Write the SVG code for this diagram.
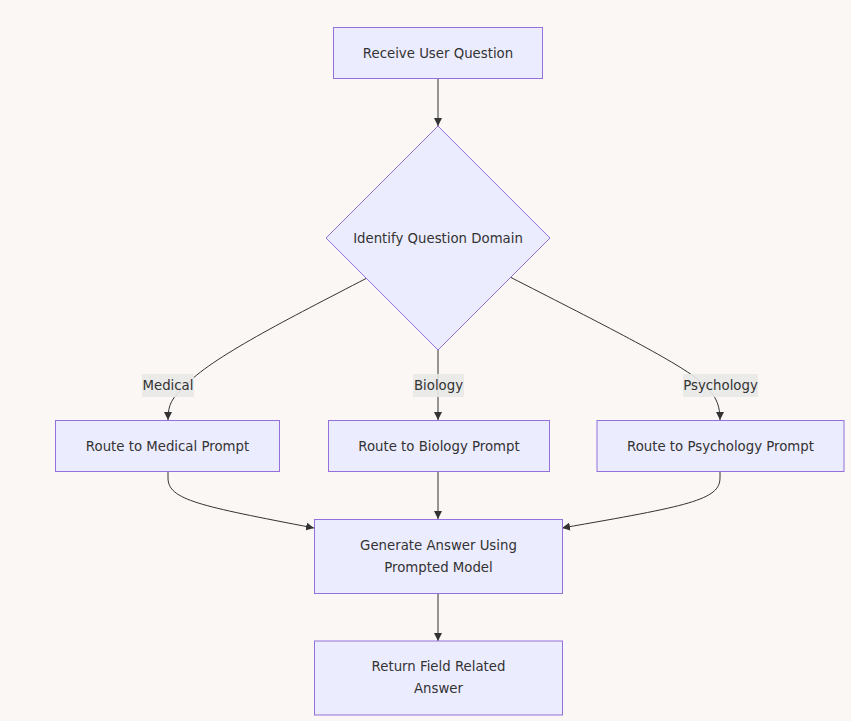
<svg xmlns="http://www.w3.org/2000/svg" width="851" height="721" viewBox="0 0 851 721">
<style>
.node{fill:#ECECFF;stroke:#9370DB;stroke-width:1}
.t{font-family:"DejaVu Sans","Noto Sans",sans-serif;font-size:13.3px;fill:#333;text-anchor:middle;dominant-baseline:central}
.edge{fill:none;stroke:#333;stroke-width:1}
.lbl{fill:#e8e8e8;opacity:0.9}
</style>
<defs>
<marker id="arr" viewBox="0 0 10 10" refX="10" refY="5" markerWidth="8" markerHeight="8" markerUnits="userSpaceOnUse" orient="auto">
<path d="M0,0 L10,5 L0,10 z" fill="#333"/>
</marker>
</defs>
<rect width="851" height="721" fill="#faf7f5"/>
<g id="connectors">
<path class="edge" d="M438,79 L438,126" marker-end="url(#arr)"/>
<path class="edge" d="M367,278 C290,318 210,358 185,386 C172,398 168,404 168,420" marker-end="url(#arr)"/>
<path class="edge" d="M438,350 L438,420" marker-end="url(#arr)"/>
<path class="edge" d="M510,277 C590,318 670,358 696,378 C714,392 720,402 720,420" marker-end="url(#arr)"/>
<path class="edge" d="M168,472 L168,478 C168,500 200,506 314,528" marker-end="url(#arr)"/>
<path class="edge" d="M438,472 L438,519" marker-end="url(#arr)"/>
<path class="edge" d="M720,472 L720,478 C720,500 688,506 562,528" marker-end="url(#arr)"/>
<path class="edge" d="M438,594 L438,641" marker-end="url(#arr)"/>
</g>
<g id="edge-labels">
<rect class="lbl" x="142" y="374" width="52" height="23"/>
<text class="t" x="168" y="385.5">Medical</text>
<rect class="lbl" x="413" y="374" width="51" height="23"/>
<text class="t" x="438.5" y="385.5">Biology</text>
<rect class="lbl" x="683" y="374" width="75" height="23"/>
<text class="t" x="720.5" y="385.5">Psychology</text>
</g>
<g id="receive">
<rect class="node" x="333.5" y="27.5" width="209" height="51"/>
<text class="t" x="438" y="53">Receive User Question</text>
</g>
<g id="identify">
<polygon class="node" points="438,126 550,238 438,350 326,238"/>
<text class="t" x="438" y="238">Identify Question Domain</text>
</g>
<g id="medical">
<rect class="node" x="55.5" y="420.5" width="224" height="51"/>
<text class="t" x="167.5" y="446">Route to Medical Prompt</text>
</g>
<g id="biology">
<rect class="node" x="328.5" y="420.5" width="221" height="51"/>
<text class="t" x="439" y="446">Route to Biology Prompt</text>
</g>
<g id="psychology">
<rect class="node" x="597" y="420.5" width="247" height="51"/>
<text class="t" x="720.5" y="446">Route to Psychology Prompt</text>
</g>
<g id="generate">
<rect class="node" x="314.5" y="519.5" width="248" height="74"/>
<text class="t" x="438.5" y="545">Generate Answer Using</text>
<text class="t" x="438.5" y="567">Prompted Model</text>
</g>
<g id="return">
<rect class="node" x="314.5" y="641" width="248" height="74"/>
<text class="t" x="438.5" y="666">Return Field Related</text>
<text class="t" x="438.5" y="688.5">Answer</text>
</g>
</svg>
